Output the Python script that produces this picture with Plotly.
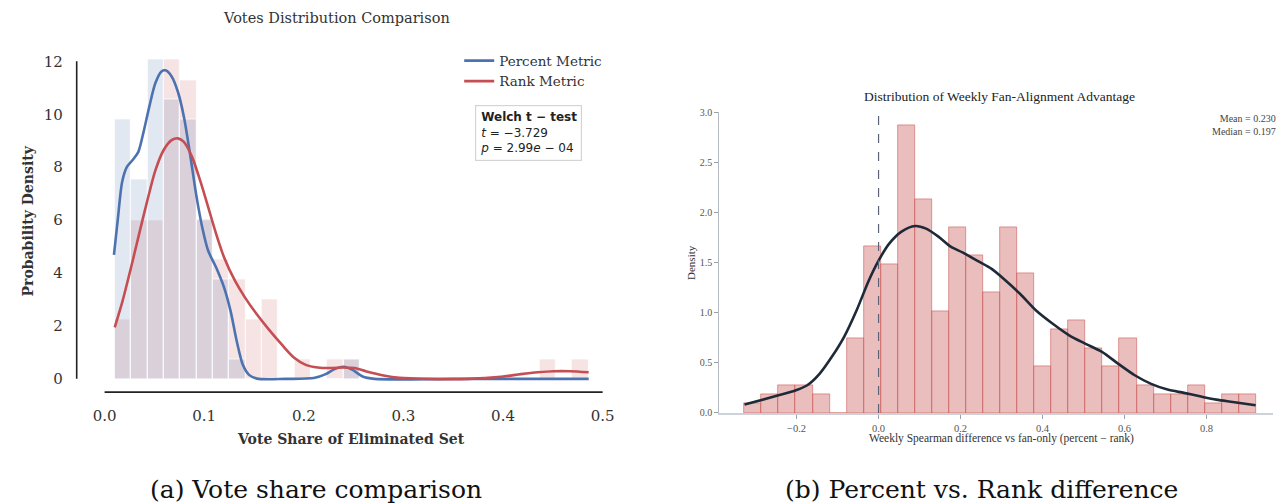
import plotly.graph_objects as go

W, H = 1280, 504

# ---------------- Panel (a): vote share of eliminated set ----------------
vote_bin_start = 0.0102
vote_bin_width = 0.0164
percent_density = [9.81, 7.53, 12.06, 10.57, 9.81, 6.03, 3.77, 0.75, 0, 0,
                   0, 0, 0, 0, 0.75, 0, 0, 0, 0, 0,
                   0, 0, 0, 0, 0, 0, 0, 0, 0]
rank_density = [2.24, 6.0, 6.0, 12.06, 11.3, 6.0, 4.5, 3.75, 2.24, 3.0,
                0, 0.75, 0, 0.75, 0.75, 0, 0, 0, 0, 0,
                0, 0, 0, 0, 0, 0, 0.75, 0, 0.75]

percent_kde_x = [0.0094, 0.0135, 0.0176, 0.0224, 0.0286, 0.0339, 0.0388, 0.0449, 0.051, 0.0571,
                 0.0612, 0.0673, 0.0735, 0.0796, 0.0857, 0.0918, 0.098, 0.104, 0.112, 0.12,
                 0.1265, 0.1327, 0.1388, 0.145, 0.153, 0.182, 0.21, 0.222, 0.231, 0.24,
                 0.249, 0.259, 0.271, 0.35, 0.42, 0.486]
percent_kde_y = [4.69, 6.11, 7.44, 8.01, 8.29, 8.58, 9.28, 10.29, 11.18, 11.62,
                 11.66, 11.43, 10.86, 9.91, 8.52, 7.0, 5.73, 4.84, 4.21, 3.45,
                 2.56, 1.42, 0.53, 0.15, 0.01, 0.0, 0.03, 0.18, 0.37, 0.46,
                 0.34, 0.09, 0.0, 0.0, 0.0, 0.0]

rank_kde_x = [0.0102, 0.018, 0.0265, 0.0347, 0.0429, 0.051, 0.0592, 0.0673, 0.0735, 0.0796,
              0.0878, 0.0959, 0.104, 0.112, 0.12, 0.131, 0.141, 0.153, 0.165, 0.178,
              0.19, 0.202, 0.214, 0.227, 0.239, 0.251, 0.263, 0.28, 0.296, 0.324,
              0.365, 0.398, 0.418, 0.435, 0.451, 0.467, 0.486]
rank_kde_y = [1.95, 2.94, 4.2, 5.48, 6.74, 7.88, 8.64, 9.02, 9.09, 8.96,
              8.39, 7.5, 6.49, 5.48, 4.59, 3.7, 3.07, 2.43, 1.86, 1.29,
              0.81, 0.53, 0.43, 0.41, 0.43, 0.41, 0.28, 0.13, 0.04, 0.0,
              0.0, 0.08, 0.18, 0.25, 0.29, 0.29, 0.25]

vote_ticks = [0.0, 0.1, 0.2, 0.3, 0.4, 0.5]
vote_tick_labels = ["0.0", "0.1", "0.2", "0.3", "0.4", "0.5"]
density_ticks_a = [0, 2, 4, 6, 8, 10, 12]

welch_t = "−3.729"
welch_p = "2.99<i>e</i> − 04"

# ---------------- Panel (b): weekly Spearman difference ----------------
diff_bin_start = -0.327
diff_bin_width = 0.0416
diff_density = [0.093, 0.183, 0.276, 0.276, 0.186, 0.0, 0.745, 1.666, 1.483, 2.873,
                2.13, 1.018, 1.852, 1.573, 1.204, 1.852, 1.39, 0.466, 0.835, 0.925,
                0.648, 0.466, 0.745, 0.276, 0.183, 0.183, 0.276, 0.093, 0.183, 0.183]

diff_kde_x = [-0.327, -0.244, -0.2016, -0.174, -0.144, -0.114, -0.084, -0.054, -0.024, 0.0,
              0.026, 0.056, 0.089, 0.116, 0.146, 0.176, 0.206, 0.245, 0.275, 0.305,
              0.345, 0.385, 0.425, 0.465, 0.505, 0.545, 0.585, 0.625, 0.665, 0.705,
              0.745, 0.784, 0.824, 0.864, 0.92]
diff_kde_y = [0.083, 0.176, 0.226, 0.276, 0.39, 0.56, 0.76, 1.02, 1.32, 1.52,
              1.69, 1.81, 1.866, 1.84, 1.76, 1.66, 1.60, 1.51, 1.44, 1.34,
              1.19, 1.02, 0.89, 0.775, 0.69, 0.61, 0.49, 0.376, 0.29, 0.233,
              0.2, 0.166, 0.133, 0.11, 0.077]

diff_ticks = [-0.2, 0.0, 0.2, 0.4, 0.6, 0.8]
diff_tick_labels = ["−0.2", "0.0", "0.2", "0.4", "0.6", "0.8"]
density_ticks_b = [0.0, 0.5, 1.0, 1.5, 2.0, 2.5, 3.0]
density_tick_labels_b = ["0.0", "0.5", "1.0", "1.5", "2.0", "2.5", "3.0"]
diff_mean = 0.230
diff_median = 0.197

# ---------------- helpers ----------------
def cy(p):
    # vertical placement helper (pixel rows of the 504-px canvas)
    return 245 + (p - 245) * 1.024

def px_x(p):
    return p / W

def px_y(p):
    return 1 - cy(p) / H

def centers(start, width, n):
    return [start + width * (i + 0.5) for i in range(n)]

BLUE = "#4C72B0"
RED = "#C44E52"
SERIF_A = "DejaVu Serif"
SERIF_B = "Liberation Serif"

fig = go.Figure()

# Panel (a) bars
fig.add_trace(go.Bar(
    x=centers(vote_bin_start, vote_bin_width, len(rank_density)), y=rank_density,
    width=vote_bin_width, marker=dict(color="rgba(196,78,82,0.16)", line=dict(color="white", width=0.8)),
    showlegend=False, xaxis="x", yaxis="y", hoverinfo="skip"))
fig.add_trace(go.Bar(
    x=centers(vote_bin_start, vote_bin_width, len(percent_density)), y=percent_density,
    width=vote_bin_width, marker=dict(color="rgba(76,114,176,0.16)", line=dict(color="white", width=0.8)),
    showlegend=False, xaxis="x", yaxis="y", hoverinfo="skip"))

fig.add_trace(go.Scatter(x=percent_kde_x, y=percent_kde_y, mode="lines", name="Percent Metric",
                         line=dict(color=BLUE, width=2.6, shape="spline", smoothing=0.8),
                         xaxis="x", yaxis="y"))
fig.add_trace(go.Scatter(x=rank_kde_x, y=rank_kde_y, mode="lines", name="Rank Metric",
                         line=dict(color=RED, width=2.6, shape="spline", smoothing=0.8),
                         xaxis="x", yaxis="y"))

# Panel (b) bars
fig.add_trace(go.Bar(
    x=centers(diff_bin_start, diff_bin_width, len(diff_density)), y=diff_density,
    width=diff_bin_width,
    marker=dict(color="rgba(205,92,92,0.40)", line=dict(color="rgba(205,92,92,0.6)", width=1)),
    showlegend=False, xaxis="x2", yaxis="y2", hoverinfo="skip"))
fig.add_trace(go.Scatter(x=diff_kde_x, y=diff_kde_y, mode="lines",
                         line=dict(color="#1f2a38", width=2.6, shape="spline", smoothing=0.8),
                         showlegend=False, xaxis="x2", yaxis="y2"))

# ---------------- layout ----------------
a_x_dom = [px_x(70), px_x(612)]
a_x_rng = [(70 - 105) / 1000, (612 - 105) / 1000]
a_y_dom = [px_y(400), px_y(55)]
a_y_scale = (cy(378) - cy(61)) / 12
a_y_rng = [(cy(378) - cy(400)) / a_y_scale, (cy(378) - cy(55)) / a_y_scale]

b_x_scale = 411.5
b_x_dom = [px_x(722), px_x(1278)]
b_x_rng = [(722 - 882) / b_x_scale, (1278 - 882) / b_x_scale]
b_y_dom = [px_y(412), px_y(112)]

fig.update_layout(
    width=W, height=H, margin=dict(l=0, r=0, t=0, b=0),
    paper_bgcolor="white", plot_bgcolor="white",
    barmode="overlay", bargap=0,
    xaxis=dict(domain=a_x_dom, range=a_x_rng, anchor="y", showgrid=False, zeroline=False,
               showline=False, ticks="", tickvals=vote_ticks, ticktext=vote_tick_labels,
               tickfont=dict(family=SERIF_A, size=15, color="#333333"), ticklabelstandoff=4),
    yaxis=dict(domain=a_y_dom, range=a_y_rng, anchor="x", showgrid=False, zeroline=False,
               showline=False, ticks="", tickvals=density_ticks_a,
               tickfont=dict(family=SERIF_A, size=15, color="#333333"), ticklabelstandoff=6),
    xaxis2=dict(domain=b_x_dom, range=b_x_rng, anchor="y2", showgrid=False, zeroline=False,
                showline=True, linecolor="#cdd1d8", linewidth=2, ticks="outside", ticklen=4,
                tickcolor="#9aa0aa", tickwidth=1, tickvals=diff_ticks, ticktext=diff_tick_labels,
                tickfont=dict(family=SERIF_B, size=10.5, color="#555555")),
    yaxis2=dict(domain=b_y_dom, range=[0, 3.0], anchor="x2", showgrid=False, zeroline=False,
                showline=True, linecolor="#b4b9c2", linewidth=1, ticks="outside", ticklen=4,
                tickcolor="#9aa0aa", tickwidth=1, tickvals=density_ticks_b,
                ticktext=density_tick_labels_b,
                tickfont=dict(family=SERIF_B, size=10, color="#555555")),
    legend=dict(x=px_x(461), y=px_y(45), xanchor="left", yanchor="top",
                font=dict(family=SERIF_A, size=13.5, color="#333333"),
                bgcolor="rgba(0,0,0,0)", itemwidth=30, tracegroupgap=0),
)

shapes = [
    # panel (a) despined axes
    dict(type="line", xref="x", yref="y", x0=-0.028, x1=-0.028, y0=0, y1=12,
         line=dict(color="#222222", width=1.6)),
    dict(type="line", xref="x", yref="y", x0=0.0, x1=0.5, y0=-0.5, y1=-0.5,
         line=dict(color="#222222", width=1.6)),
    # panel (b) zero reference line
    dict(type="line", xref="x2", yref="y2", x0=0, x1=0, y0=0, y1=3.0,
         line=dict(color="#5b6275", width=1.2, dash="dash")),
]
fig.update_layout(shapes=shapes)

ann = []
def add_text(text, x, y, size, family, color="#222222", xanchor="center", yanchor="middle",
             angle=0, align="center", **kw):
    ann.append(dict(text=text, x=px_x(x), y=px_y(y), xref="paper", yref="paper",
                    showarrow=False, xanchor=xanchor, yanchor=yanchor, textangle=angle,
                    align=align, font=dict(family=family, size=size, color=color), **kw))

# panel (a) texts
add_text("Votes Distribution Comparison", 338, 18, 14.5, SERIF_A, "#333333")
add_text("<b>Probability Density</b>", 28, 220, 14, SERIF_A, "#333333", angle=-90)
add_text("<b>Vote Share of Eliminated Set</b>", 352, 438, 14, SERIF_A, "#333333")
ann.append(dict(text="<b>Welch t − test</b><br><i>t</i> = " + welch_t + "<br><i>p</i> = " + welch_p,
                x=px_x(477), y=px_y(105), xref="paper", yref="paper", showarrow=False,
                xanchor="left", yanchor="top", align="left",
                font=dict(family="DejaVu Sans", size=12, color="#222222"),
                bordercolor="#d4d4d4", borderwidth=1.2, borderpad=4, bgcolor="white"))

# panel (b) texts
add_text("Distribution of Weekly Fan-Alignment Advantage", 1003, 96, 13.5, SERIF_B, "#222222")
add_text(f"Mean = {diff_mean:.3f}<br>Median = {diff_median:.3f}", 1283, 125, 10, SERIF_B,
         "#444444", xanchor="right", align="right")
add_text("Density", 693, 262, 11, SERIF_B, "#333333", angle=-90)
add_text("Weekly Spearman difference vs fan-only (percent − rank)", 1005, 438, 11.5, SERIF_B,
         "#333333")

# captions
add_text("(a) Vote share comparison", 317, 488, 25, SERIF_A, "#111111")
add_text("(b) Percent vs. Rank difference", 985, 488, 25, SERIF_A, "#111111")

fig.update_layout(annotations=ann)

fig.write_html("out.html", config={"displayModeBar": False},
               post_script="document.body.style.margin='0';document.body.style.overflow='hidden';")
